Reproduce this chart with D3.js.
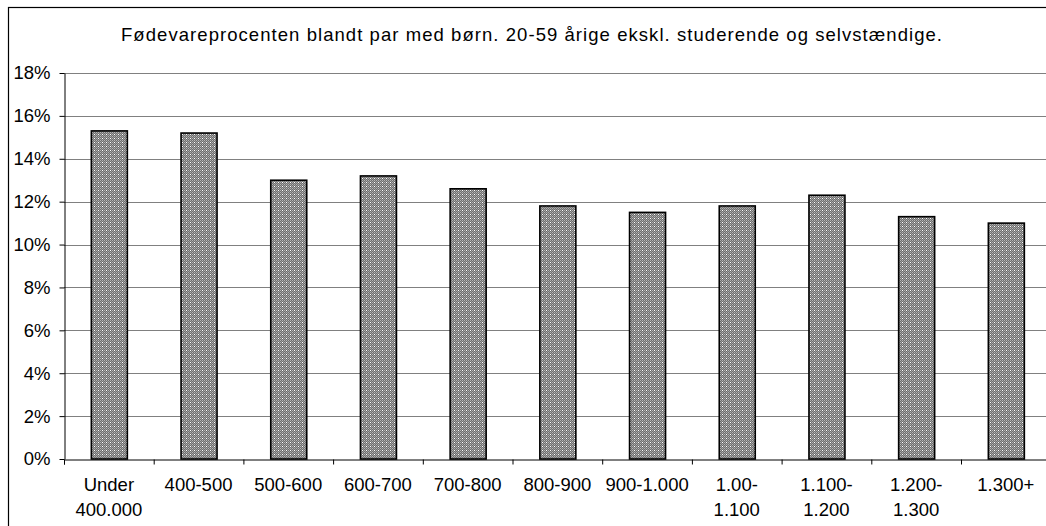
<!DOCTYPE html>
<html><head><meta charset="utf-8">
<script src="https://cdn.jsdelivr.net/npm/d3@7"></script>
<style>body{margin:0;background:#fff}svg{display:block}text{font-family:"Liberation Sans",Arial,sans-serif;fill:#000}</style>
</head><body>
<script>
const title = "Fødevareprocenten blandt par med børn. 20-59 årige ekskl. studerende og selvstændige.";
const categories = [["Under","400.000"],["400-500"],["500-600"],["600-700"],["700-800"],["800-900"],["900-1.000"],["1.00-","1.100"],["1.100-","1.200"],["1.200-","1.300"],["1.300+"]];
const values = [15.3, 15.2, 13.0, 13.2, 12.6, 11.8, 11.5, 11.8, 12.3, 11.3, 11.0];
const yTicks = [0, 2, 4, 6, 8, 10, 12, 14, 16, 18];

(function(){
const W = 1046, H = 526;
const FS = "18.5px";
const svg = d3.select("body").append("svg").attr("width", W).attr("height", H);

const defs = svg.append("defs");
const pat = defs.append("pattern").attr("id","dots").attr("patternUnits","userSpaceOnUse")
  .attr("width",4).attr("height",4);
pat.append("rect").attr("width",4).attr("height",4).attr("fill","#6e6e6e");
[[0,0,"#b4b4b4"],[2,0,"#b4b4b4"],[1,1,"#9a9a9a"],[3,1,"#9a9a9a"],[0,2,"#b4b4b4"],[2,2,"#ffffff"],[1,3,"#9a9a9a"],[3,3,"#9a9a9a"]]
  .forEach(([px,py,c]) => pat.append("rect").attr("x",px).attr("y",py).attr("width",1).attr("height",1).attr("fill",c));

// outer frame
svg.append("rect").attr("x",8.5).attr("y",7.5).attr("width",1060).attr("height",540)
  .attr("fill","none").attr("stroke","#000").attr("stroke-width",1.2);

const pLeft = 64, pRight = 64 + 11*89.7, pTop = 73, pBottom = 459;
const x = d3.scaleBand().domain(d3.range(categories.length)).range([pLeft, pRight]).paddingInner(0).paddingOuter(0);
const y = d3.scaleLinear().domain([0, 18]).range([pBottom, pTop]);

svg.append("text").attr("x", 121).attr("y", 41).attr("text-anchor","start")
  .attr("textLength", 821).attr("lengthAdjust","spacing")
  .style("font-size",FS).text(title);

// gridlines
svg.append("g").selectAll("line").data(yTicks.filter(d => d > 0)).join("line")
  .attr("x1", pLeft).attr("x2", W).attr("y1", d => Math.round(y(d))+0.5).attr("y2", d => Math.round(y(d))+0.5)
  .attr("stroke","#808080").attr("stroke-width",1);

// y axis
const yAxis = svg.append("g").attr("transform",`translate(${pLeft+0.5},0)`)
  .call(d3.axisLeft(y).tickValues(yTicks).tickFormat(d => d + "%").tickSize(5).tickSizeOuter(0));
yAxis.select(".domain").attr("stroke","#000");
yAxis.selectAll(".tick line").attr("stroke","#000");
yAxis.selectAll(".tick text").attr("x",-14).style("font-size",FS).style("font-family","Liberation Sans, Arial, sans-serif").attr("fill","#000");

// bars
const bw = 36;
svg.append("g").selectAll("rect").data(values).join("rect")
  .attr("x", (d,i) => x(i) + x.bandwidth()/2 - bw/2 + 0.5)
  .attr("y", d => y(d))
  .attr("width", bw).attr("height", d => pBottom - y(d))
  .attr("fill","url(#dots)").attr("stroke","#000").attr("stroke-width",1.6);

// x axis
const xAxis = svg.append("g").attr("transform",`translate(0,${pBottom+0.5})`)
  .call(d3.axisBottom(d3.scaleLinear().domain([0,11]).range([pLeft,pRight])).tickValues(d3.range(0,12)).tickSize(5).tickFormat(""));
xAxis.select(".domain").attr("stroke","#000");
xAxis.selectAll(".tick line").attr("stroke","#000");

const lab = svg.append("g").selectAll("text").data(categories).join("text")
  .attr("text-anchor","middle").style("font-size",FS)
  .attr("transform", (d,i) => `translate(${x(i)+x.bandwidth()/2},491)`);
lab.selectAll("tspan").data(d => d).join("tspan").attr("x",0).attr("dy",(d,i)=> i ? 25 : 0).text(d => d);
})();
</script>
</body></html>
